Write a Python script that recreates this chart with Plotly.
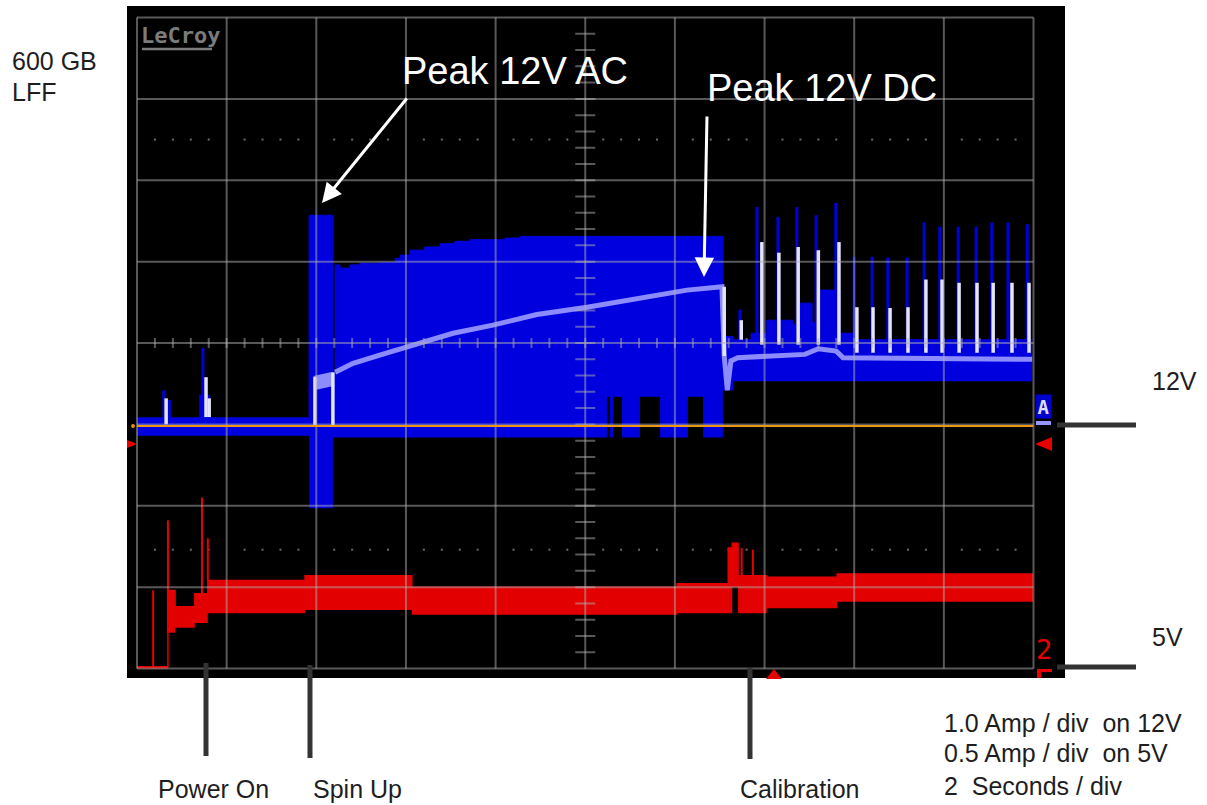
import plotly.graph_objects as go

# ---------------- data ----------------
# time in seconds (2 s/div); 12 V current in A (1 A/div); 5 V current in A (0.5 A/div)

# 12 V channel (blue): step envelope of the sampled waveform
blue_t = [0.00, 1.40, 1.62, 3.84, 4.37, 4.42, 4.53, 4.75, 4.97, 5.42, 5.76, 5.87, 6.09, 6.42,
          6.76, 7.09, 7.43, 8.21, 8.54, 10.49, 10.55, 10.62, 10.82, 11.22, 11.67, 12.29, 12.63,
          13.07, 13.30, 13.70, 14.05, 14.63, 14.79, 15.06, 15.24, 15.68, 15.97, 19.97]
blue_hi = [0.10, 0.38, 0.10, 2.59, 0.66, 1.98, 1.94, 1.98, 2.00, 2.01, 2.06, 2.10, 2.16, 2.20,
           2.24, 2.27, 2.29, 2.31, 2.33, 2.33, 2.33, 2.33, 2.33, 2.33, 2.33, 2.33, 2.33,
           1.10, 1.06, 1.14, 1.30, 1.25, 1.51, 1.27, 1.67, 1.14, 1.06, 1.06]
blue_lo = [-0.12, -0.12, -0.12, -1.01, -0.14, -0.14, -0.14, -0.14, -0.14, -0.14, -0.14, -0.14, -0.14, -0.14,
           -0.14, -0.14, -0.14, -0.14, -0.14, 0.36, -0.14, 0.36, -0.14, 0.36, -0.14, 0.36, -0.14,
           0.44, 0.55, 0.55, 0.55, 0.55, 0.55, 0.55, 0.55, 0.55, 0.55, 0.55]

# 12 V narrow current spikes (blue)
bsp_t = [0.60, 0.72, 1.47, 13.45, 13.83, 14.30, 14.72, 15.15, 15.59, 16.00, 16.40, 16.75,
         17.18, 17.56, 17.91, 18.32, 18.72, 19.07, 19.43, 19.86]
bsp_lo = [0.10, 0.10, 0.38, 1.06, 1.06, 1.06, 1.06, 1.06, 1.06, 1.06, 1.06, 1.06,
          1.06, 1.06, 1.06, 1.06, 1.06, 1.06, 1.06, 1.06]
bsp_hi = [0.44, 0.32, 0.96, 1.43, 2.69, 2.57, 2.69, 2.59, 2.74, 2.08, 2.08, 2.07,
          2.07, 2.50, 2.45, 2.45, 2.45, 2.50, 2.50, 2.48]

# 12 V averaged (DC) trace
dc_t = [4.42, 4.82, 5.58, 6.31, 7.05, 7.94, 8.92, 10.04, 10.78, 11.51, 12.27, 13.05, 13.10,
        13.17, 13.25, 13.40, 14.30, 14.90, 15.20, 15.60, 15.75, 19.97]
dc_i = [0.66, 0.77, 0.90, 1.02, 1.14, 1.24, 1.37, 1.46, 1.53, 1.59, 1.67, 1.71, 0.86,
        0.44, 0.80, 0.84, 0.86, 0.88, 0.95, 0.92, 0.84, 0.82]
dc_spin_t = [3.97, 4.37]
dc_spin_i = [0.53, 0.58]

# 12 V averaged-trace peaks (white)
wsp_t = [0.65, 1.54, 1.61, 3.97, 4.37, 13.10, 13.48, 13.94, 14.32, 14.75, 15.20, 15.66,
         16.06, 16.42, 16.80, 17.20, 17.60, 17.96, 18.34, 18.74, 19.10, 19.52, 19.90]
wsp_lo = [0.02, 0.11, 0.11, -0.01, 0.01, 0.86, 1.06, 1.00, 1.00, 1.00, 1.00, 1.00,
          0.90, 0.90, 0.90, 0.90, 0.90, 0.90, 0.90, 0.90, 0.90, 0.90, 0.90]
wsp_hi = [0.34, 0.60, 0.34, 0.60, 0.66, 1.71, 1.30, 2.26, 2.13, 2.20, 2.16, 2.26,
          1.46, 1.46, 1.45, 1.46, 1.80, 1.80, 1.76, 1.76, 1.76, 1.76, 1.76]

# 5 V channel (red): step envelope
red_t = [0.00, 0.69, 0.85, 1.29, 1.58, 3.75, 6.13, 12.05, 13.19, 13.28, 13.41, 14.05, 15.62, 19.99]
red_hi = [0.01, 0.48, 0.38, 0.46, 0.54, 0.57, 0.50, 0.52, 0.74, 0.77, 0.57, 0.56, 0.58, 0.58]
red_lo = [0.00, 0.22, 0.25, 0.28, 0.34, 0.36, 0.33, 0.34, 0.34, 0.50, 0.34, 0.37, 0.41, 0.41]

rsp_t = [0.36, 0.69, 1.45, 1.58, 13.49, 13.74]
rsp_lo = [0.00, 0.22, 0.46, 0.54, 0.57, 0.57]
rsp_hi = [0.48, 0.91, 1.05, 0.80, 0.74, 0.73]

# labels
events = ["Power On", "Spin Up", "Calibration"]
scale_text = ["1.0 Amp / div&nbsp; on 12V", "0.5 Amp / div&nbsp; on 5V", "2&nbsp; Seconds / div"]

# ---------------- scope geometry ----------------
Z12 = 2.98          # 12 V zero level (divisions from bottom)
A12 = 1.0           # A per division, 12 V
A5 = 0.5            # A per division, 5 V

def d12(v):
    return [Z12 + x / A12 for x in v]

def d5(v):
    return [x / A5 for x in v]

def seg(ts, lo, hi):
    xs, ys = [], []
    for t, a, b in zip(ts, lo, hi):
        xs += [t, t, None]
        ys += [a, b, None]
    return xs, ys

BLUE = "rgb(0,0,222)"
LAV = "rgb(140,140,255)"
WHT = "rgb(228,228,252)"
RED = "rgb(226,0,0)"
ORANGE = "rgb(235,150,20)"
GRID = "rgba(175,175,175,0.5)"

fig = go.Figure()

# dotted reference rows
dx = [2 * i + 0.4 * k for i in range(10) for k in range(1, 5)]
fig.add_trace(go.Scatter(x=dx + dx, y=[6.5] * len(dx) + [1.46] * len(dx), mode="markers",
                         marker=dict(symbol="square", size=2, color="#6a6a6a"),
                         hoverinfo="skip"))

# blue 12 V band
fig.add_trace(go.Scatter(x=blue_t, y=d12(blue_lo), mode="lines", line=dict(width=0, shape="hv", color=BLUE),
                         hoverinfo="skip"))
fig.add_trace(go.Scatter(x=blue_t, y=d12(blue_hi), mode="lines", line=dict(width=1, shape="hv", color=BLUE),
                         fill="tonexty", fillcolor=BLUE, hoverinfo="skip"))
sx, sy = seg(bsp_t, d12(bsp_lo), d12(bsp_hi))
fig.add_trace(go.Scatter(x=sx, y=sy, mode="lines", line=dict(width=3, color=BLUE), hoverinfo="skip"))

# DC average trace
fig.add_trace(go.Scatter(x=dc_t, y=d12(dc_i), mode="lines", line=dict(width=5, color=LAV), hoverinfo="skip"))
fig.add_trace(go.Scatter(x=dc_spin_t, y=d12(dc_spin_i), mode="lines", line=dict(width=14, color=LAV),
                         hoverinfo="skip"))
wx, wy = seg(wsp_t, d12(wsp_lo), d12(wsp_hi))
fig.add_trace(go.Scatter(x=wx, y=wy, mode="lines", line=dict(width=3.5, color=WHT), hoverinfo="skip"))

# red 5 V band
fig.add_trace(go.Scatter(x=red_t, y=d5(red_lo), mode="lines", line=dict(width=0, shape="hv", color=RED),
                         hoverinfo="skip"))
fig.add_trace(go.Scatter(x=red_t, y=d5(red_hi), mode="lines", line=dict(width=1.5, shape="hv", color=RED),
                         fill="tonexty", fillcolor=RED, hoverinfo="skip"))
rx, ry = seg(rsp_t, d5(rsp_lo), d5(rsp_hi))
fig.add_trace(go.Scatter(x=rx, y=ry, mode="lines", line=dict(width=2, color=RED), hoverinfo="skip"))

# ---------------- decorations ----------------
W, H = 1207, 805
PL, PR, PT, PB = 127, 1065, 6, 678


def P(x, y):
    return (x - PL) / (PR - PL), (PB - y) / (PB - PT)


shapes = []
for k in range(11):
    shapes.append(dict(type="line", xref="x", yref="y", x0=2 * k, x1=2 * k, y0=0, y1=8,
                       line=dict(color=GRID, width=2), layer="above"))
for j in range(9):
    shapes.append(dict(type="line", xref="x", yref="y", x0=0, x1=20, y0=j, y1=j,
                       line=dict(color=GRID, width=2), layer="above"))
tick_path = ""
for k in range(1, 50):
    t = 0.4 * k
    tick_path += f"M{t:.3f},3.94L{t:.3f},4.06"
for k in range(1, 40):
    v = 0.2 * k
    tick_path += f"M9.777,{v:.3f}L10.223,{v:.3f}"
shapes.append(dict(type="path", xref="x", yref="y", path=tick_path,
                   line=dict(color=GRID, width=2), layer="above"))
# 12 V zero (orange)
shapes.append(dict(type="line", xref="x", yref="y", x0=0, x1=20, y0=Z12, y1=Z12,
                   line=dict(color=ORANGE, width=2), layer="above"))
ox, oy = P(133, 426)
shapes.append(dict(type="circle", xref="paper", yref="paper", x0=ox - 0.002, x1=ox + 0.002,
                   y0=oy - 0.003, y1=oy + 0.003, fillcolor=ORANGE, line=dict(width=0)))


def tri(pts, color):
    p = [P(*q) for q in pts]
    path = "M" + "L".join(f"{a:.5f},{b:.5f}" for a, b in p) + "Z"
    return dict(type="path", xref="paper", yref="paper", path=path, fillcolor=color,
                line=dict(width=0), layer="above")


shapes.append(tri([(127, 440), (137, 444), (127, 448)], "rgb(230,0,0)"))
shapes.append(tri([(1052, 437), (1035, 444), (1052, 451)], "rgb(230,0,0)"))
shapes.append(tri([(766, 679), (774, 669), (782, 679)], "rgb(230,0,0)"))

# lavender bar under "A" marker, red hook under "2"
x0, y0 = P(1036, 421); x1, y1 = P(1051, 425)
shapes.append(dict(type="rect", xref="paper", yref="paper", x0=x0, x1=x1, y0=y1, y1=y0,
                   fillcolor="rgb(150,150,255)", line=dict(width=0)))
x0, y0 = P(1038, 669); x1, y1 = P(1052, 672)
shapes.append(dict(type="rect", xref="paper", yref="paper", x0=x0, x1=x1, y0=y1, y1=y0,
                   fillcolor="rgb(230,0,0)", line=dict(width=0)))
x0, y0 = P(1037, 669); x1, y1 = P(1041, 678)
shapes.append(dict(type="rect", xref="paper", yref="paper", x0=x0, x1=x1, y0=y1, y1=y0,
                   fillcolor="rgb(230,0,0)", line=dict(width=0)))

# LeCroy underline
x0, y0 = P(142, 49); x1, _ = P(212, 49)
shapes.append(dict(type="line", xref="paper", yref="paper", x0=x0, x1=x1, y0=y0, y1=y0,
                   line=dict(color="#7c7c7c", width=2.5)))

# outside black marker lines
DARK = "#333333"
for (xa, ya, xb, yb) in [(206, 663, 206, 756), (310, 665, 310, 758), (750, 668, 750, 759),
                         (1057, 425, 1136, 425), (1057, 667, 1136, 667)]:
    a, b = P(xa, ya); c, d = P(xb, yb)
    shapes.append(dict(type="line", xref="paper", yref="paper", x0=a, y0=b, x1=c, y1=d,
                       line=dict(color=DARK, width=5)))

annotations = []
FONT = "Liberation Sans, Arial, sans-serif"
TXT = "#1e1e1e"


def label(text, x, y, size=25, color=TXT, xanchor="left", family=FONT):
    a, b = P(x, y)
    annotations.append(dict(text=text, x=a, y=b, xref="paper", yref="paper", showarrow=False,
                            xanchor=xanchor, yanchor="middle",
                            font=dict(family=family, size=size, color=color)))


label("600 GB", 10, 61)
label("LFF", 10, 92)
label("12V", 1150, 381)
label("5V", 1150, 637)
label(events[0], 213.5, 789, xanchor="center")
label(events[1], 357, 789, xanchor="center")
label(events[2], 799.5, 789, xanchor="center")
label(scale_text[0], 942, 722.5)
label(scale_text[1], 942, 752.5)
label(scale_text[2], 942, 786)

label("Peak 12V AC", 400, 71, size=38, color="white")
label("Peak 12V DC", 705, 88, size=38, color="white")
label("<b>LeCroy</b>", 139, 36, size=22, color="#7c7c7c", family="DejaVu Sans Mono, monospace")
label("2", 1043.5, 649, size=27, color="rgb(230,0,0)", xanchor="center",
      family="DejaVu Sans Mono, monospace")

a, b = P(1043.5, 406.5)
annotations.append(dict(text="<b>A</b>", x=a, y=b, xref="paper", yref="paper", showarrow=False,
                        xanchor="center", yanchor="middle", width=13, height=21,
                        bgcolor="rgb(0,0,205)",
                        font=dict(family="DejaVu Sans Mono, monospace", size=19, color="rgb(220,220,255)")))

for (hx, hy, tx, ty) in [(322, 203, 408, 97), (704, 277, 707, 115)]:
    a, b = P(hx, hy)
    annotations.append(dict(text="", x=a, y=b, xref="paper", yref="paper", showarrow=True,
                            ax=tx - hx, ay=ty - hy, arrowhead=2, arrowsize=1.3, arrowwidth=3,
                            arrowcolor="white", standoff=0))

fig.update_layout(
    width=W, height=H,
    margin=dict(l=PL, r=W - PR, t=PT, b=H - PB, pad=0),
    paper_bgcolor="white", plot_bgcolor="black",
    showlegend=False,
    xaxis=dict(range=[-(137 - PL) / 44.825, 20 + (PR - 1033.5) / 44.825], visible=False, fixedrange=True),
    yaxis=dict(range=[-(PB - 668.5) / 81.375, 8 + (17.5 - PT) / 81.375], visible=False, fixedrange=True),
    shapes=shapes,
    annotations=annotations,
)

fig.write_html("out.html", config={"displayModeBar": False},
               post_script="document.body.style.margin='0px';")
